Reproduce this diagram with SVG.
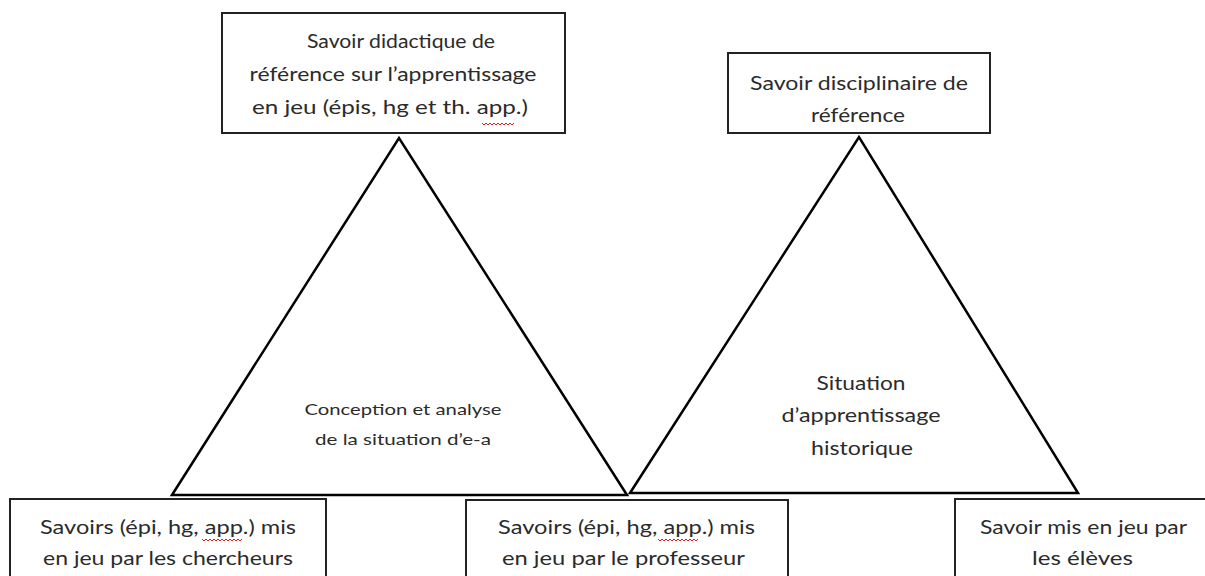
<svg xmlns="http://www.w3.org/2000/svg" width="1205" height="576" viewBox="0 0 1205 576">
<style>
.box{fill:#fff;stroke:#222;stroke-width:2}
.tri{fill:#fff;stroke:#000;stroke-width:2.5;stroke-linejoin:miter}
.t{font-family:Lato,"Open Sans","Liberation Sans",sans-serif;fill:#2b2b2b;text-anchor:middle;font-size:19.5px}
.s{font-size:15px}
.sq{fill:none;stroke:#e02020;stroke-width:1}
</style>
<rect width="1205" height="576" fill="#fff"/>
<g id="connectors">
<polygon class="tri" points="172,495 399,138 627,495"/>
<polygon class="tri" points="630,493 859,137 1078,493"/>
</g>
<g id="tri1-label">
<text class="t s" x="403" y="415" textLength="197" lengthAdjust="spacingAndGlyphs">Conception et analyse</text>
<text class="t s" x="403" y="445" textLength="176" lengthAdjust="spacingAndGlyphs">de la situation d’e-a</text>
</g>
<g id="tri2-label">
<text class="t" x="861" y="390" textLength="89" lengthAdjust="spacingAndGlyphs">Situation</text>
<text class="t" x="861" y="422" textLength="159" lengthAdjust="spacingAndGlyphs">d’apprentissage</text>
<text class="t" x="862" y="455" textLength="102" lengthAdjust="spacingAndGlyphs">historique</text>
</g>
<g id="node-didactique">
<rect class="box" x="222" y="13" width="343" height="120"/>
<text class="t" x="401" y="48" textLength="188" lengthAdjust="spacingAndGlyphs">Savoir didactique de</text>
<text class="t" x="393" y="81" textLength="287" lengthAdjust="spacingAndGlyphs">référence sur l’apprentissage</text>
<text class="t" x="390" y="114" textLength="276" lengthAdjust="spacingAndGlyphs">en jeu (épis, hg et th. app.)</text>
<path class="sq" d="M482,123 l2,2 l2,-2 l2,2 l2,-2 l2,2 l2,-2 l2,2 l2,-2 l2,2 l2,-2 l2,2 l2,-2 l2,2 l2,-2 l2,2 l2,-2"/>
</g>
<g id="node-disciplinaire">
<rect class="box" x="728" y="53" width="262" height="80"/>
<text class="t" x="859" y="90" textLength="218" lengthAdjust="spacingAndGlyphs">Savoir disciplinaire de</text>
<text class="t" x="858" y="122" textLength="94" lengthAdjust="spacingAndGlyphs">référence</text>
</g>
<g id="node-chercheurs">
<rect class="box" x="10" y="499" width="316" height="100"/>
<text class="t" x="168" y="534" textLength="256" lengthAdjust="spacingAndGlyphs">Savoirs (épi, hg, app.) mis</text>
<text class="t" x="168" y="565" textLength="250" lengthAdjust="spacingAndGlyphs">en jeu par les chercheurs</text>
<path class="sq" d="M202,539 l2,2 l2,-2 l2,2 l2,-2 l2,2 l2,-2 l2,2 l2,-2 l2,2 l2,-2 l2,2 l2,-2 l2,2 l2,-2 l2,2 l2,-2 l2,2 l2,-2 l2,2 l2,-2"/>
</g>
<g id="node-professeur">
<rect class="box" x="466" y="500" width="322" height="100"/>
<text class="t" x="626.5" y="534" textLength="257" lengthAdjust="spacingAndGlyphs">Savoirs (épi, hg, app.) mis</text>
<text class="t" x="623.5" y="565" textLength="243" lengthAdjust="spacingAndGlyphs">en jeu par le professeur</text>
<path class="sq" d="M658,539 l2,2 l2,-2 l2,2 l2,-2 l2,2 l2,-2 l2,2 l2,-2 l2,2 l2,-2 l2,2 l2,-2 l2,2 l2,-2 l2,2 l2,-2 l2,2 l2,-2 l2,2 l2,-2"/>
</g>
<g id="node-eleves">
<rect class="box" x="955" y="499" width="262" height="100"/>
<text class="t" x="1083.5" y="534" textLength="207" lengthAdjust="spacingAndGlyphs">Savoir mis en jeu par</text>
<text class="t" x="1082.5" y="565" textLength="101" lengthAdjust="spacingAndGlyphs">les élèves</text>
</g>
</svg>
